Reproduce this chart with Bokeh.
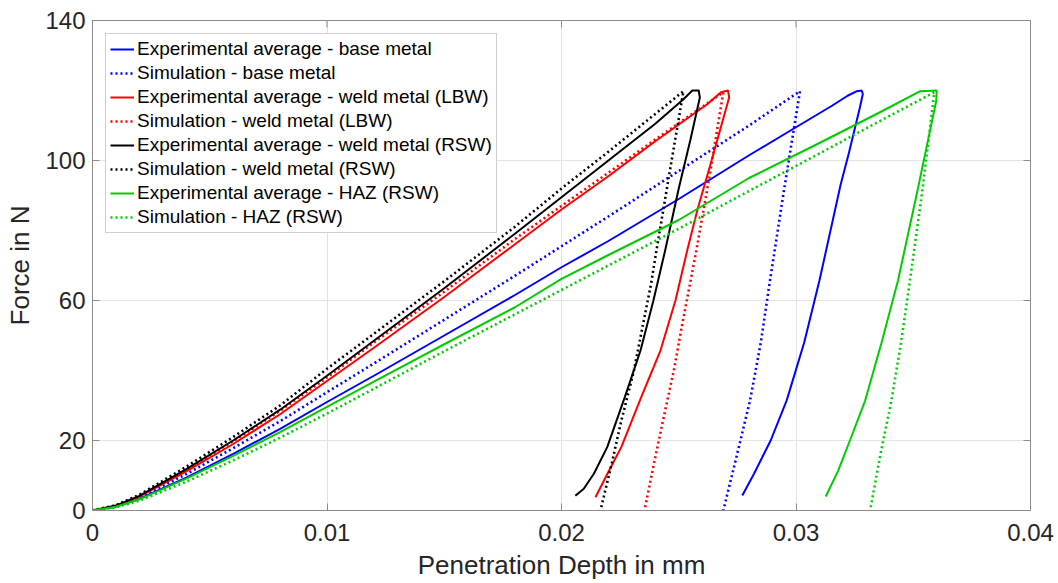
import math
from bokeh.plotting import figure
from bokeh.models import FixedTicker, Legend, LegendItem
from bokeh.embed import file_html
from bokeh.resources import INLINE

# ---------------- data ----------------
# Experimental average - base metal
exp_base_d = [0, 0.001, 0.002, 0.004, 0.006, 0.008, 0.010, 0.012, 0.015, 0.018, 0.020, 0.022, 0.025, 0.028, 0.030, 0.0315, 0.0322, 0.0326, 0.0328,
              0.03285, 0.03272, 0.03225, 0.0319, 0.0310, 0.03035, 0.0296, 0.02892, 0.02821, 0.02771]
exp_base_f = [0, 1.1, 3.3, 9.4, 16.2, 23.3, 31.0, 38.5, 50.0, 61.5, 69.5, 77.0, 89.0, 101.5, 109.5, 115.5, 118.5, 119.8, 120.0,
              119.0, 115.0, 102.0, 93.0, 65.7, 48.0, 31.4, 20.0, 10.5, 4.3]
# Simulation - base metal
sim_base_d = [0, 0.001, 0.002, 0.004, 0.006, 0.008, 0.010, 0.012, 0.015, 0.018, 0.020, 0.022, 0.025, 0.028, 0.03017,
              0.0295, 0.02889, 0.0285, 0.02804, 0.02745, 0.0269]
sim_base_f = [0, 1.2, 3.7, 10.4, 17.8, 25.5, 33.8, 42.0, 54.5, 67.0, 75.5, 84.0, 97.0, 110.0, 119.8,
              92.0, 65.7, 48.0, 31.4, 15.0, 0.0]
# Experimental average - weld metal (LBW)
exp_lbw_d = [0, 0.001, 0.002, 0.004, 0.006, 0.008, 0.010, 0.012, 0.015, 0.018, 0.020, 0.022, 0.024, 0.0262, 0.0268, 0.0271,
             0.02715, 0.0264, 0.0258, 0.02536, 0.02486, 0.02422, 0.02340, 0.02255, 0.02192, 0.02145]
exp_lbw_f = [0, 1.3, 4.0, 11.2, 19.0, 27.5, 37.0, 46.5, 61.0, 76.0, 86.0, 95.5, 105.5, 116.0, 119.5, 120.0,
             118.0, 100.0, 86.0, 74.3, 60.0, 45.7, 32.4, 18.1, 10.0, 3.8]
# Simulation - weld metal (LBW)
sim_lbw_d = [0, 0.001, 0.002, 0.004, 0.006, 0.008, 0.010, 0.012, 0.015, 0.018, 0.020, 0.022, 0.024, 0.0269,
             0.02630, 0.02575, 0.02548, 0.02515, 0.02479, 0.0243, 0.02394, 0.02354]
sim_lbw_f = [0, 1.4, 4.1, 11.6, 19.8, 28.5, 38.0, 48.0, 62.5, 77.5, 87.0, 96.5, 106.0, 119.5,
             95.0, 74.3, 64.8, 53.3, 40.0, 24.8, 13.3, 0.0]
# Experimental average - weld metal (RSW)
exp_rsw_d = [0, 0.001, 0.002, 0.004, 0.006, 0.008, 0.010, 0.012, 0.015, 0.018, 0.020, 0.022, 0.024, 0.0252, 0.02558, 0.02585,
             0.0259, 0.0255, 0.0250, 0.02442, 0.02392, 0.02337, 0.02270, 0.02195, 0.02138, 0.02095, 0.02059]
exp_rsw_f = [0, 1.4, 4.2, 11.8, 20.0, 28.8, 38.5, 48.5, 63.5, 79.0, 89.5, 100.0, 110.5, 117.5, 120.0, 120.0,
             118.0, 106.0, 92.0, 74.3, 60.0, 45.7, 32.4, 18.1, 10.5, 6.2, 4.2]
# Simulation - weld metal (RSW)
sim_rsw_d = [0, 0.001, 0.002, 0.004, 0.006, 0.008, 0.010, 0.012, 0.015, 0.018, 0.020, 0.022, 0.0252,
             0.02462, 0.02405, 0.02382, 0.02348, 0.02309, 0.02252, 0.02214, 0.02166]
sim_rsw_f = [0, 1.5, 4.5, 12.5, 21.0, 30.0, 40.5, 50.5, 65.5, 81.0, 92.0, 102.5, 119.8,
             97.0, 74.3, 64.8, 53.3, 40.0, 24.8, 13.3, 0.0]
# Experimental average - HAZ (RSW)
exp_haz_d = [0, 0.001, 0.002, 0.004, 0.006, 0.008, 0.010, 0.012, 0.015, 0.018, 0.020, 0.022, 0.025, 0.028, 0.031, 0.0335, 0.0353, 0.0360,
             0.03598, 0.0352, 0.03435, 0.03365, 0.03295, 0.0323, 0.0318, 0.03127]
exp_haz_f = [0, 1.1, 3.2, 9.1, 15.6, 22.4, 29.6, 36.8, 47.5, 58.0, 66.2, 73.0, 83.0, 95.0, 105.0, 113.5, 119.8, 120.0,
             117.0, 92.0, 65.7, 48.0, 31.4, 20.0, 11.4, 4.0]
# Simulation - HAZ (RSW)
sim_haz_d = [0, 0.001, 0.002, 0.004, 0.006, 0.008, 0.010, 0.012, 0.015, 0.018, 0.020, 0.022, 0.025, 0.028, 0.031, 0.0335, 0.0359,
             0.0354, 0.03486, 0.03448, 0.03407, 0.0336, 0.03316]
sim_haz_f = [0, 0.9, 2.8, 8.2, 14.3, 20.8, 27.7, 34.8, 45.5, 56.0, 63.0, 70.0, 80.5, 91.3, 102.0, 111.0, 119.5,
             92.0, 65.7, 48.0, 31.4, 16.0, 0.0]

labels = [
    "Experimental average - base metal",
    "Simulation - base metal",
    "Experimental average - weld metal (LBW)",
    "Simulation - weld metal (LBW)",
    "Experimental average - weld metal (RSW)",
    "Simulation - weld metal (RSW)",
    "Experimental average - HAZ (RSW)",
    "Simulation - HAZ (RSW)",
]
x_ticks = [0, 0.01, 0.02, 0.03, 0.04]
x_tick_labels = ["0", "0.01", "0.02", "0.03", "0.04"]
y_ticks = [0, 20, 60, 100, 140]
y_tick_labels = ["0", "20", "60", "100", "140"]

series = [
    (exp_base_d, exp_base_f, "#0000ff", "solid"),
    (sim_base_d, sim_base_f, "#0000ff", "dotted"),
    (exp_lbw_d, exp_lbw_f, "#ff0000", "solid"),
    (sim_lbw_d, sim_lbw_f, "#ff0000", "dotted"),
    (exp_rsw_d, exp_rsw_f, "#000000", "solid"),
    (sim_rsw_d, sim_rsw_f, "#000000", "dotted"),
    (exp_haz_d, exp_haz_f, "#00cc00", "solid"),
    (sim_haz_d, sim_haz_f, "#00cc00", "dotted"),
]

FONT = "Liberation Sans"
TXT = "#262626"
AX = "#8c8c8c"

x_lo, x_hi = x_ticks[0], x_ticks[-1]
y_lo, y_hi = y_ticks[0], y_ticks[-1]

p = figure(width=1058, height=583, output_backend="svg", toolbar_location=None,
           x_range=(x_lo, x_hi), y_range=(y_lo, y_hi),
           min_border_left=92, min_border_right=28, min_border_top=20, min_border_bottom=73)
p.outline_line_color = AX
p.outline_line_width = 1
p.background_fill_color = "white"
p.border_fill_color = "white"

p.xgrid.ticker = FixedTicker(ticks=x_ticks)
p.ygrid.ticker = FixedTicker(ticks=y_ticks)
p.xgrid.grid_line_color = "#e3e3e3"
p.ygrid.grid_line_color = "#e3e3e3"

# inward ticks on the top and right edges of the box (clipped to the frame)
p.scatter(x=x_ticks, y=[y_hi] * len(x_ticks), marker="dash", angle=math.pi / 2, size=14,
          line_color=AX, line_width=1)
p.scatter(x=[x_hi] * len(y_ticks), y=y_ticks, marker="dash", size=14, line_color=AX, line_width=1)

renderers = []
for d, f, col, style in series:
    if style == "solid":
        r = p.line(d, f, line_color=col, line_width=2)
    else:
        r = p.line(d, f, line_color=col, line_width=2.6, line_dash="2 3")
    renderers.append(r)

def style_axis(ax, ticks, overrides):
    ax.ticker = FixedTicker(ticks=ticks)
    ax.major_label_overrides = overrides
    ax.minor_tick_line_color = None
    ax.major_tick_in = 7
    ax.major_tick_out = 0
    ax.major_tick_line_color = AX
    ax.axis_line_color = AX
    ax.major_label_text_font = FONT
    ax.major_label_text_color = TXT
    ax.major_label_text_font_size = "24px"
    ax.axis_label_text_font = FONT
    ax.axis_label_text_color = TXT
    ax.axis_label_text_font_style = "normal"
    ax.axis_label_text_font_size = "26px"

style_axis(p.xaxis[0], x_ticks, dict(zip(x_ticks, x_tick_labels)))
p.xaxis[0].axis_label = "Penetration Depth in mm"
p.xaxis[0].major_label_standoff = 13
p.xaxis[0].axis_label_standoff = 6
style_axis(p.yaxis[0], y_ticks, dict(zip(y_ticks, y_tick_labels)))
p.yaxis[0].axis_label = "Force in N"
p.yaxis[0].major_label_standoff = 7
p.yaxis[0].axis_label_standoff = 7

legend = Legend(items=[LegendItem(label=l, renderers=[r]) for l, r in zip(labels, renderers)],
                location="top_left")
legend.margin = 13
legend.padding = 4
legend.spacing = 2
legend.label_height = 20
legend.glyph_height = 20
legend.glyph_width = 24
legend.label_standoff = 3
legend.label_text_font = FONT
legend.label_text_font_size = "19px"
legend.label_text_color = "#000000"
legend.border_line_color = "#a0a0a0"
legend.border_line_width = 1
legend.background_fill_color = "white"
legend.background_fill_alpha = 1
p.add_layout(legend)

open("out.html", "w").write(file_html(p, INLINE))
